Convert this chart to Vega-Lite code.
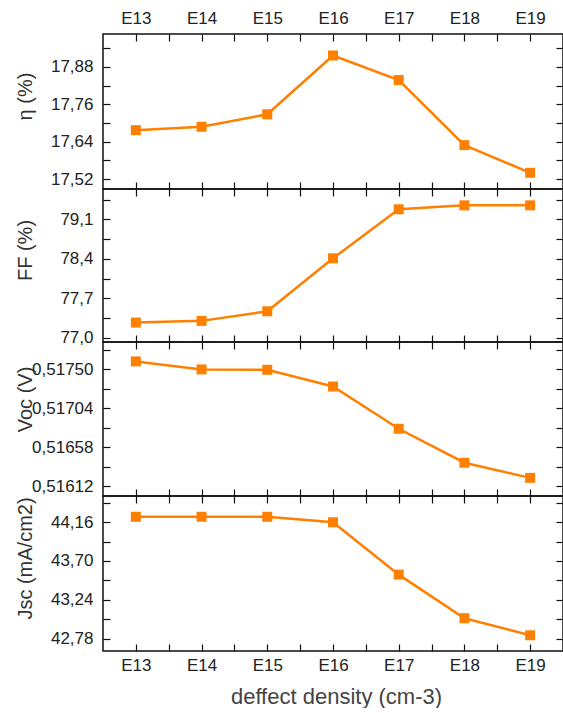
{
  "$schema": "https://vega.github.io/schema/vega-lite/v6.json",
  "autosize": {"type": "pad"},
  "padding": {"left": 14, "top": 8, "right": 0, "bottom": 0},
  "bounds": "flush",
  "spacing": 0,
  "datasets": {
    "d": [
      {"x": 13, "eta": 17.677, "ff": 77.27, "voc": 0.517595, "jsc": 44.223},
      {"x": 14, "eta": 17.688, "ff": 77.30, "voc": 0.517500, "jsc": 44.223},
      {"x": 15, "eta": 17.728, "ff": 77.47, "voc": 0.517496, "jsc": 44.223},
      {"x": 16, "eta": 17.917, "ff": 78.41, "voc": 0.517298, "jsc": 44.158},
      {"x": 17, "eta": 17.838, "ff": 79.28, "voc": 0.516799, "jsc": 43.538},
      {"x": 18, "eta": 17.629, "ff": 79.35, "voc": 0.516398, "jsc": 43.022},
      {"x": 19, "eta": 17.540, "ff": 79.35, "voc": 0.516219, "jsc": 42.820}
    ]
  },
  "data": {"name": "d"},
  "vconcat": [
    {
      "width": 460, "height": 155,
      "layer": [
        {
          "mark": {"type": "line", "color": "#FF8000", "strokeWidth": 2.5, "point": {"shape": "square", "size": 100, "filled": true, "color": "#FF8000", "opacity": 1}},
          "encoding": {
            "x": {"field": "x", "type": "quantitative", "scale": {"domain": [12.5, 19.5], "nice": false, "zero": false},
              "axis": {"orient": "top", "values": [13,13.5,14,14.5,15,15.5,16,16.5,17,17.5,18,18.5,19], "labelExpr": "datum.value % 1 == 0 ? 'E' + datum.value : ''", "tickSize": -7, "labelPadding": 13.5, "title": null,
                "encode": {"ticks": {"update": {"y2": {"signal": "datum.value % 1 == 0 ? 7 : 4"}}}}}},
            "y": {"field": "eta", "type": "quantitative", "scale": {"domain": [17.488, 17.986], "nice": false, "zero": false},
              "axis": {"orient": "left", "values": [17.52,17.58,17.64,17.7,17.76,17.82,17.88,17.94], "labelExpr": "indexof([17.52,17.64,17.76,17.88], datum.value) >= 0 ? replace(format(datum.value, '.2f'), '.', ',') : ''", "tickSize": -7, "labelPadding": 17,
                "title": "η (%)", "titleX": -72, "titleY": 62, "titleBaseline": "alphabetic", "titleAngle": 270,
                "encode": {"ticks": {"update": {"x2": {"signal": "indexof([17.52,17.64,17.76,17.88], datum.value) >= 0 ? 7 : 4"}}}}}}
          }
        },
        {
          "mark": {"type": "point", "opacity": 0},
          "encoding": {
            "x": {"field": "x", "type": "quantitative",
              "axis": {"orient": "bottom", "values": [13,13.5,14,14.5,15,15.5,16,16.5,17,17.5,18,18.5,19], "labels": false, "tickSize": -7, "title": null,
                "encode": {"ticks": {"update": {"y2": {"signal": "datum.value % 1 == 0 ? -7 : -4"}}}}}},
            "y": {"field": "eta", "type": "quantitative",
              "axis": {"orient": "right", "values": [17.52,17.58,17.64,17.7,17.76,17.82,17.88,17.94], "labels": false, "tickSize": -7, "title": null,
                "encode": {"ticks": {"update": {"x2": {"signal": "indexof([17.52,17.64,17.76,17.88], datum.value) >= 0 ? -7 : -4"}}}}}}
          }
        }
      ],
      "resolve": {"axis": {"x": "independent", "y": "independent"}}
    },
    {
      "width": 460, "height": 153,
      "layer": [
        {
          "mark": {"type": "line", "color": "#FF8000", "strokeWidth": 2.5, "point": {"shape": "square", "size": 100, "filled": true, "color": "#FF8000", "opacity": 1}},
          "encoding": {
            "x": {"field": "x", "type": "quantitative", "scale": {"domain": [12.5, 19.5], "nice": false, "zero": false},
              "axis": {"orient": "top", "values": [13,13.5,14,14.5,15,15.5,16,16.5,17,17.5,18,18.5,19], "labels": false, "tickSize": -7, "title": null,
                "encode": {"ticks": {"update": {"y2": {"signal": "datum.value % 1 == 0 ? 7 : 4"}}}}}},
            "y": {"field": "ff", "type": "quantitative", "scale": {"domain": [76.925, 79.64], "nice": false, "zero": false},
              "axis": {"orient": "left", "values": [77.0,77.35,77.7,78.05,78.4,78.75,79.1,79.45], "labelExpr": "indexof([77.0,77.7,78.4,79.1], datum.value) >= 0 ? replace(format(datum.value, '.1f'), '.', ',') : ''", "tickSize": -7, "labelPadding": 17,
                "title": "FF (%)", "titleX": -72, "titleY": 61, "titleBaseline": "alphabetic", "titleAngle": 270,
                "encode": {"ticks": {"update": {"x2": {"signal": "indexof([77.0,77.7,78.4,79.1], datum.value) >= 0 ? 7 : 4"}}}}}}
          }
        },
        {
          "mark": {"type": "point", "opacity": 0},
          "encoding": {
            "x": {"field": "x", "type": "quantitative",
              "axis": {"orient": "bottom", "values": [13,13.5,14,14.5,15,15.5,16,16.5,17,17.5,18,18.5,19], "labels": false, "tickSize": -7, "title": null,
                "encode": {"ticks": {"update": {"y2": {"signal": "datum.value % 1 == 0 ? -7 : -4"}}}}}},
            "y": {"field": "ff", "type": "quantitative",
              "axis": {"orient": "right", "values": [77.0,77.35,77.7,78.05,78.4,78.75,79.1,79.45], "labels": false, "tickSize": -7, "title": null,
                "encode": {"ticks": {"update": {"x2": {"signal": "indexof([77.0,77.7,78.4,79.1], datum.value) >= 0 ? -7 : -4"}}}}}}
          }
        }
      ],
      "resolve": {"axis": {"x": "independent", "y": "independent"}}
    },
    {
      "width": 460, "height": 154,
      "layer": [
        {
          "mark": {"type": "line", "color": "#FF8000", "strokeWidth": 2.5, "point": {"shape": "square", "size": 100, "filled": true, "color": "#FF8000", "opacity": 1}},
          "encoding": {
            "x": {"field": "x", "type": "quantitative", "scale": {"domain": [12.5, 19.5], "nice": false, "zero": false},
              "axis": {"orient": "top", "values": [13,13.5,14,14.5,15,15.5,16,16.5,17,17.5,18,18.5,19], "labels": false, "tickSize": -7, "title": null,
                "encode": {"ticks": {"update": {"y2": {"signal": "datum.value % 1 == 0 ? 7 : 4"}}}}}},
            "y": {"field": "voc", "type": "quantitative", "scale": {"domain": [0.516005, 0.517824], "nice": false, "zero": false},
              "axis": {"orient": "left", "values": [0.51612,0.51635,0.51658,0.51681,0.51704,0.51727,0.5175,0.51773], "labelExpr": "indexof([0.51612,0.51658,0.51704,0.5175], datum.value) >= 0 ? replace(format(datum.value, '.5f'), '.', ',') : ''", "tickSize": -7, "labelPadding": 17,
                "title": "Voc (V)", "titleX": -72, "titleY": 57, "titleBaseline": "alphabetic", "titleAngle": 270,
                "encode": {"ticks": {"update": {"x2": {"signal": "indexof([0.51612,0.51658,0.51704,0.5175], datum.value) >= 0 ? 7 : 4"}}}}}}
          }
        },
        {
          "mark": {"type": "point", "opacity": 0},
          "encoding": {
            "x": {"field": "x", "type": "quantitative",
              "axis": {"orient": "bottom", "values": [13,13.5,14,14.5,15,15.5,16,16.5,17,17.5,18,18.5,19], "labels": false, "tickSize": -7, "title": null,
                "encode": {"ticks": {"update": {"y2": {"signal": "datum.value % 1 == 0 ? -7 : -4"}}}}}},
            "y": {"field": "voc", "type": "quantitative",
              "axis": {"orient": "right", "values": [0.51612,0.51635,0.51658,0.51681,0.51704,0.51727,0.5175,0.51773], "labels": false, "tickSize": -7, "title": null,
                "encode": {"ticks": {"update": {"x2": {"signal": "indexof([0.51612,0.51658,0.51704,0.5175], datum.value) >= 0 ? -7 : -4"}}}}}}
          }
        }
      ],
      "resolve": {"axis": {"x": "independent", "y": "independent"}}
    },
    {
      "width": 460, "height": 155,
      "layer": [
        {
          "mark": {"type": "line", "color": "#FF8000", "strokeWidth": 2.5, "point": {"shape": "square", "size": 100, "filled": true, "color": "#FF8000", "opacity": 1}},
          "encoding": {
            "x": {"field": "x", "type": "quantitative", "scale": {"domain": [12.5, 19.5], "nice": false, "zero": false},
              "axis": {"orient": "bottom", "values": [13,13.5,14,14.5,15,15.5,16,16.5,17,17.5,18,18.5,19], "labelExpr": "datum.value % 1 == 0 ? 'E' + datum.value : ''", "tickSize": -7, "labelPadding": 13.7,
                "title": "deffect density (cm-3)", "titleFontSize": 22, "titleColor": "#444", "titleX": 233, "titleY": 52, "titleBaseline": "alphabetic",
                "encode": {"ticks": {"update": {"y2": {"signal": "datum.value % 1 == 0 ? -7 : -4"}}}}}},
            "y": {"field": "jsc", "type": "quantitative", "scale": {"domain": [42.634, 44.469], "nice": false, "zero": false},
              "axis": {"orient": "left", "values": [42.78,43.01,43.24,43.47,43.7,43.93,44.16,44.39], "labelExpr": "indexof([42.78,43.24,43.7,44.16], datum.value) >= 0 ? replace(format(datum.value, '.2f'), '.', ',') : ''", "tickSize": -7, "labelPadding": 17,
                "title": "Jsc (mA/cm2)", "titleX": -72, "titleY": 62, "titleBaseline": "alphabetic", "titleAngle": 270,
                "encode": {"ticks": {"update": {"x2": {"signal": "indexof([42.78,43.24,43.7,44.16], datum.value) >= 0 ? 7 : 4"}}}}}}
          }
        },
        {
          "mark": {"type": "point", "opacity": 0},
          "encoding": {
            "x": {"field": "x", "type": "quantitative",
              "axis": {"orient": "top", "values": [13,13.5,14,14.5,15,15.5,16,16.5,17,17.5,18,18.5,19], "labels": false, "tickSize": -7, "title": null,
                "encode": {"ticks": {"update": {"y2": {"signal": "datum.value % 1 == 0 ? 7 : 4"}}}}}},
            "y": {"field": "jsc", "type": "quantitative",
              "axis": {"orient": "right", "values": [42.78,43.01,43.24,43.47,43.7,43.93,44.16,44.39], "labels": false, "tickSize": -7, "title": null,
                "encode": {"ticks": {"update": {"x2": {"signal": "indexof([42.78,43.24,43.7,44.16], datum.value) >= 0 ? -7 : -4"}}}}}}
          }
        }
      ],
      "resolve": {"axis": {"x": "independent", "y": "independent"}}
    }
  ],
  "config": {
    "background": "white",
    "view": {"stroke": "#111", "strokeWidth": 1.5},
    "axis": {
      "domain": false, "grid": false,
      "tickColor": "#111", "tickWidth": 1.2,
      "labelFont": "Liberation Sans", "labelFontSize": 17, "labelColor": "#222",
      "titleFont": "Liberation Sans", "titleFontSize": 20, "titleFontWeight": "normal", "titleColor": "#333",
      "labelFlush": false, "labelOverlap": false, "labelBound": false
    }
  }
}
